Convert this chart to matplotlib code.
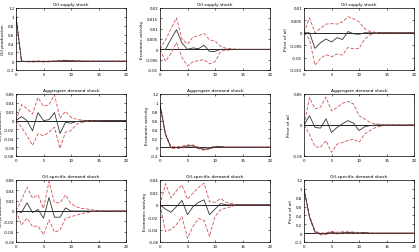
import numpy as np
import matplotlib.pyplot as plt

h = np.arange(21)

# rows: shocks, columns: responses
titulos = ['Oil supply shock', 'Aggregate demand shock', 'Oil-specific demand shock']
ylabels = ['Oil production', 'Economic activity', 'Price of oil']

def pad(v):
    return v + [0.0] * (21 - len(v))

# Oil supply shock
r11 = pad([1.0, 0.0, -0.01, -0.008, -0.004, -0.01, -0.006, 0.0, 0.006, 0.012, 0.008, 0.004, 0.002])
u11 = pad([1.0, 0.0, -0.002, 0.004, 0.006, 0.002, 0.004, 0.008, 0.014, 0.02, 0.014, 0.008, 0.003])
l11 = pad([1.0, 0.0, -0.018, -0.02, -0.014, -0.02, -0.016, -0.008, -0.002, 0.004, 0.002, 0.0, 0.0])

r12 = pad([0.0, 0.0, 0.005, 0.0095, 0.003, 0.0, 0.0007, 0.0003, 0.002, -0.001, -0.001, 0.0, 0.0])
u12 = pad([0.0, 0.0045, 0.01, 0.0152, 0.005, 0.0025, 0.006, 0.0065, 0.0077, 0.0046, 0.004, 0.0015, 0.0005, 0.0003])
l12 = pad([0.0, -0.0058, -0.002, 0.0033, -0.004, -0.008, -0.006, -0.0055, -0.005, -0.007, -0.006, -0.001, -0.0004, -0.0002])

r13 = pad([0.0, 0.0, -0.0063, -0.004, -0.0025, -0.0037, -0.002, -0.0027, 0.0005, -0.0004, -0.0006, 0.0])
u13 = pad([0.0, 0.006, 0.0, 0.0018, 0.0035, 0.0037, 0.0035, 0.0044, 0.0065, 0.0056, 0.0044, 0.0018, 0.0005, 0.0002])
l13 = pad([0.0, -0.0027, -0.013, -0.0104, -0.0088, -0.0097, -0.0085, -0.009, -0.0059, -0.0065, -0.0063, -0.0027, -0.0008, -0.0003])

# Aggregate demand shock
r21 = pad([0.0, 0.009, 0.0, -0.023, 0.018, 0.0, 0.002, 0.018, -0.029, -0.004, -0.006, -0.002, -0.001])
u21 = pad([0.0, 0.036, 0.027, 0.015, 0.052, 0.032, 0.036, 0.058, 0.005, 0.021, 0.007, 0.003, 0.001])
l21 = pad([0.0, -0.015, -0.034, -0.056, -0.03, -0.034, -0.026, -0.015, -0.063, -0.026, -0.023, -0.008, -0.004, -0.002, -0.001, -0.001])

r22 = pad([0.95, 0.29, -0.01, -0.01, 0.0, 0.03, 0.03, -0.02, -0.05, -0.03, 0.01, 0.01])
u22 = pad([0.97, 0.31, 0.01, 0.01, 0.02, 0.05, 0.05, 0.0, -0.03, -0.01, 0.02, 0.015, 0.005])
l22 = pad([0.93, 0.27, -0.03, -0.03, -0.02, 0.01, 0.01, -0.04, -0.07, -0.05, 0.0, 0.005, -0.005])

r23 = pad([0.0, 0.015, -0.004, -0.005, 0.01, -0.012, -0.004, 0.002, 0.007, 0.003, -0.009, -0.003, -0.001])
u23 = pad([0.0, 0.044, 0.026, 0.029, 0.045, 0.023, 0.028, 0.035, 0.038, 0.034, 0.015, 0.01, 0.004, 0.002, 0.001])
l23 = pad([0.0, -0.015, -0.035, -0.036, -0.025, -0.044, -0.031, -0.028, -0.025, -0.023, -0.028, -0.015, -0.009, -0.004, -0.002])

# Oil-specific demand shock
r31 = pad([0.0, -0.003, 0.016, -0.003, 0.003, -0.014, 0.026, -0.012, -0.012, 0.006, 0.0])
u31 = pad([0.0, 0.021, 0.046, 0.025, 0.031, 0.005, 0.057, 0.016, 0.016, 0.031, 0.014, 0.008, 0.005, 0.004, 0.002])
l31 = pad([0.0, -0.027, -0.014, -0.03, -0.029, -0.046, -0.017, -0.041, -0.037, -0.014, -0.011, -0.008, -0.005, -0.003, -0.001])

r32 = pad([0.0, -0.007, -0.012, -0.003, 0.007, -0.016, -0.003, 0.004, 0.008, -0.016, -0.007, 0.002, 0.0])
u32 = pad([0.0, 0.034, 0.011, 0.023, 0.032, 0.009, 0.019, 0.028, 0.035, 0.005, 0.004, 0.01, 0.004, 0.002])
l32 = pad([0.0, -0.043, -0.04, -0.032, -0.019, -0.054, -0.035, -0.022, -0.025, -0.051, -0.019, -0.008, -0.005, -0.003])

r33 = pad([1.0, 0.37, 0.03, -0.02, -0.01, 0.02, 0.0, 0.01, 0.015, 0.01, 0.005, 0.01])
u33 = pad([1.0, 0.39, 0.05, 0.0, 0.01, 0.04, 0.02, 0.03, 0.03, 0.025, 0.015, 0.015, 0.005])
l33 = pad([1.0, 0.35, 0.01, -0.04, -0.03, 0.0, -0.02, -0.01, 0.0, -0.005, -0.005, 0.005, -0.003])

datos = [[(r11, u11, l11), (r12, u12, l12), (r13, u13, l13)],
         [(r21, u21, l21), (r22, u22, l22), (r23, u23, l23)],
         [(r31, u31, l31), (r32, u32, l32), (r33, u33, l33)]]

limites = [[(-0.2, 1.2, 0.2), (-0.01, 0.02, 0.005), (-0.015, 0.01, 0.005)],
           [(-0.08, 0.06, 0.02), (-0.2, 1.2, 0.2), (-0.05, 0.05, 0.05)],
           [(-0.06, 0.06, 0.02), (-0.06, 0.04, 0.02), (-0.2, 1.2, 0.2)]]

W, H = 419, 253
fig = plt.figure(figsize=(W / 100, H / 100), dpi=100)
izq = [16, 160, 304]
abajo = [71, 157, 243]
fs = 2.8

for i in range(3):
    for j in range(3):
        ax = fig.add_axes([izq[j] / W, 1 - abajo[i] / H, 110 / W, 62 / H])
        r, u, l = datos[i][j]
        ax.axhline(0, color='black', linewidth=0.6)
        ax.plot(h, u, color='#d05050', linestyle='--', linewidth=0.6, dashes=(4, 2))
        ax.plot(h, l, color='#d05050', linestyle='--', linewidth=0.6, dashes=(4, 2))
        ax.plot(h, r, color='#333333', linewidth=0.6)
        lo, hi, paso = limites[i][j]
        ax.set_xlim(0, 20)
        ax.set_ylim(lo, hi)
        ax.set_xticks([0, 5, 10, 15, 20])
        ticks = np.round(np.arange(lo, hi + paso / 2, paso), 4)
        ax.set_yticks(ticks)
        ax.set_yticklabels(['%g' % t for t in ticks])
        ax.tick_params(direction='in', length=1.5, width=0.4, labelsize=fs, pad=1.2,
                       top=True, right=True)
        for s in ax.spines.values():
            s.set_linewidth(0.5)
        ax.set_title(titulos[i], fontsize=fs + 0.4, pad=2)
        ax.set_ylabel(ylabels[j], fontsize=fs + 0.4, labelpad=1)

plt.savefig('out.png', dpi=100)
